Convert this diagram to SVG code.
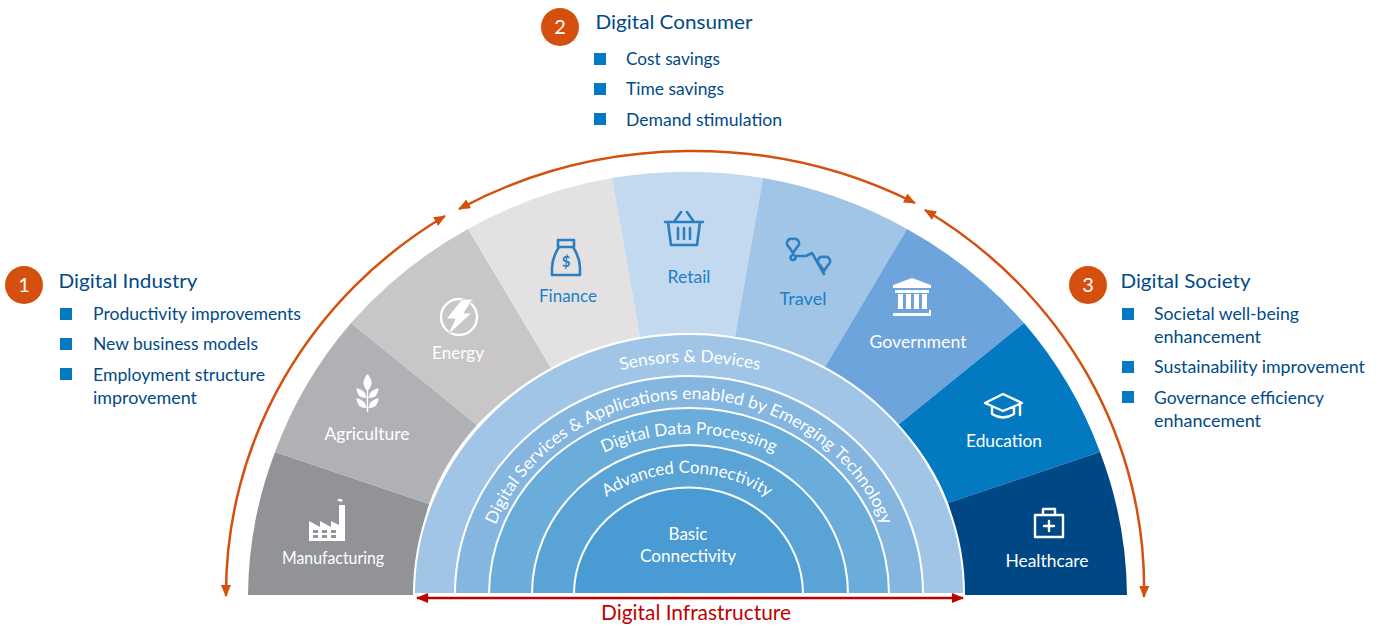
<svg xmlns="http://www.w3.org/2000/svg" width="1383" height="626" viewBox="0 0 1383 626">
<style>
text{font-family:"Lato","Open Sans",sans-serif}
.h{font-size:20px;fill:#004a87}
.b{font-size:17px;fill:#004a87}
.s{fill:#0279c0}
.c{fill:#d5500f}
.n{font-size:20px;fill:#fff;text-anchor:middle}
.lw{font-size:17px;fill:#fff;text-anchor:middle}
.lb{font-size:17px;fill:#1b80c5;text-anchor:middle}
.rt{font-size:17px;fill:#fff;text-anchor:middle}
.ring{stroke:#fff;stroke-width:2}
.ic{fill:none;stroke:#fff;stroke-width:2.4;stroke-linejoin:round;stroke-linecap:round}
.ib{fill:none;stroke:#2b7fc0;stroke-width:2.6;stroke-linejoin:round;stroke-linecap:round}
.or{fill:none;stroke:#d5500f;stroke-width:2.5;marker-start:url(#ao);marker-end:url(#ao)}
</style>
<defs>
<marker id="ao" viewBox="0 0 12 10" refX="11" refY="5" markerWidth="12" markerHeight="10" markerUnits="userSpaceOnUse" orient="auto-start-reverse"><path d="M0 0L12 5L0 10Z" fill="#d5500f"/></marker>
<marker id="ar" viewBox="0 0 12 10" refX="11" refY="5" markerWidth="12" markerHeight="11" markerUnits="userSpaceOnUse" orient="auto-start-reverse"><path d="M0 0L12 5L0 10Z" fill="#c00000"/></marker>
<path id="p1" d="M428 595A262 233 0 0 1 952 595"/>
<path id="p2" d="M482 595A207 196 0 0 1 896 595"/>
<path id="p3" d="M507 595A182 161 0 0 1 871 595"/>
<path id="p4" d="M552 595A135 122 0 0 1 822 595"/>
</defs>
<g id="seg-manufacturing"><path d="M248 595A439.5 424 0 0 1 275 452L429 504Q416 545 413 595Z" fill="#929396"/><text class="lw" x="333" y="564" textLength="102" lengthAdjust="spacingAndGlyphs">Manufacturing</text>
<path d="M309 541V521L320 527V521L331 527V521L339 525V505H345V541Z" fill="#fff"/><path d="M313 530h5v3h-5zM322 530h5v3h-5zM331 530h5v3h-5zM313 535h5v3h-5zM322 535h5v3h-5zM331 535h5v3h-5z" fill="#929396"/><path d="M337 500q4-3 6 1q-3 2-6-1Z" fill="#fff"/></g>
<g id="seg-agriculture"><path d="M275 452A439.5 424 0 0 1 351 323L477 425Q445 460 429 504Z" fill="#b0b1b5"/><text class="lw" x="367" y="440" textLength="85" lengthAdjust="spacingAndGlyphs">Agriculture</text>
<path d="M367.500 374q8 9 0 17q-8-8 0-17ZM366.500 398q-1-8-10-10q0 10 10 10ZM368.500 398q1-8 10-10q0 10-10 10ZM366.500 408q-1-8-10-10q0 10 10 10ZM368.500 408q1-8 10-10q0 10-10 10ZM366.800 390h1.400v22h-1.400Z" fill="#fff"/></g>
<g id="seg-energy"><path d="M351 323A439.500 424 0 0 1 468 229L551 368Q510 390 477 425Z" fill="#c8c6c7"/><text class="lw" x="458" y="359" textLength="52" lengthAdjust="spacingAndGlyphs">Energy</text>
<circle cx="459" cy="317" r="18" class="ic" stroke-width="3"/><path d="M462 299H473L464 313H472L447 336L455 319H446Z" fill="#fff" stroke="#c8c6c7" stroke-width="1"/></g>
<g id="seg-finance"><path d="M468 229A439.500 424 0 0 1 612 178L640 337Q592 345 551 368Z" fill="#e3e1e2"/><text class="lb" x="568" y="302" textLength="58" lengthAdjust="spacingAndGlyphs">Finance</text>
<path d="M558 240H574V247H558ZM559 247Q552 258 552 268V275H580V268Q580 258 573 247" class="ib"/><text x="566" y="267" font-size="15" font-weight="700" fill="#2b7fc0" text-anchor="middle">$</text></g>
<g id="seg-retail"><path d="M612 178A439.500 424 0 0 1 763 178L735 337Q688 329 640 337Z" fill="#c3d9ef"/><text class="lb" x="689" y="283" textLength="43" lengthAdjust="spacingAndGlyphs">Retail</text>
<path d="M665 222H703M668 222L671 245H697L700 222M674 222L681 212M694 222L687 212M678 228V239M684 228V239M690 228V239" class="ib" stroke-width="3.200"/></g>
<g id="seg-travel"><path d="M763 178A439.500 424 0 0 1 907 229L825 367Q784 345 735 337Z" fill="#a0c5e7"/><text class="lb" x="803" y="305" textLength="47" lengthAdjust="spacingAndGlyphs">Travel</text>
<path d="M793 239a4.500 4.500 0 0 1 4 8l-4 6l-4-6a4.500 4.500 0 0 1 4-8ZM824 257a4.500 4.500 0 0 1 4 8l-4 6l-4-6a4.500 4.500 0 0 1 4-8ZM793 255a2.500 2.500 0 1 0 .1 0ZM797 256H806L812 253L824 274" class="ib"/></g>
<g id="seg-government"><path d="M907 229A439.500 424 0 0 1 1024 323L898 425Q865 390 825 367Z" fill="#6ca4db"/><text class="lw" x="918" y="348" textLength="97" lengthAdjust="spacingAndGlyphs">Government</text>
<path d="M912 278L931 285V288H893V285ZM895 290H929V293H895ZM898 294H903V309H898ZM906 294H911V309H906ZM914 294H919V309H914ZM922 294H927V309H922ZM895 310H929V313H893V316H931V310Z" fill="#fff"/></g>
<g id="seg-education"><path d="M1024 323A439.500 424 0 0 1 1100 452L948 503Q932 460 898 425Z" fill="#0279c0"/><text class="lw" x="1004" y="447" textLength="76" lengthAdjust="spacingAndGlyphs">Education</text>
<path d="M1003 394L1022 403L1003 411L985 403ZM992 407V414Q1003 421 1014 414V407M1020 404V415" class="ic"/></g>
<g id="seg-healthcare"><path d="M1100 452A439.500 424 0 0 1 1127 595H964Q961 545 948 503Z" fill="#004785"/><text class="lw" x="1047" y="567" textLength="83" lengthAdjust="spacingAndGlyphs">Healthcare</text>
<path d="M1035 515H1063V537H1035ZM1043 515V509H1055V515M1049 521V531M1044 526H1054" class="ic" stroke-width="2.200"/></g>
<g id="infrastructure">
<path class="ring" d="M414 594A275 260 0 0 1 964 594Z" fill="#a0c5e7"/>
<path class="ring" d="M455 594A234 218 0 0 1 923 594Z" fill="#84b6df"/>
<path class="ring" d="M489 594A200 186 0 0 1 889 594Z" fill="#6aacda"/>
<path class="ring" d="M532 594A158 149 0 0 1 848 594Z" fill="#59a3d6"/>
<path class="ring" d="M574 594A114 106 0 0 1 803 594Z" fill="#4a9bd3"/>
<text class="rt"><textPath href="#p1" startOffset="50%" textLength="140" lengthAdjust="spacingAndGlyphs">Sensors &amp; Devices</textPath></text>
<text class="rt"><textPath href="#p2" startOffset="50%" textLength="490" lengthAdjust="spacingAndGlyphs">Digital Services &amp; Applications enabled by Emerging Technology</textPath></text>
<text class="rt"><textPath href="#p3" startOffset="50%" textLength="176" lengthAdjust="spacingAndGlyphs">Digital Data Processing</textPath></text>
<text class="rt"><textPath href="#p4" startOffset="50%" textLength="171" lengthAdjust="spacingAndGlyphs">Advanced Connectivity</textPath></text>
<text class="rt" x="688" y="540" textLength="39" lengthAdjust="spacingAndGlyphs">Basic</text>
<text class="rt" x="688" y="562" textLength="96" lengthAdjust="spacingAndGlyphs">Connectivity</text>
</g>
<g id="connectors">
<path class="or" d="M226 596A461 444 0 0 1 445 216"/>
<path class="or" d="M459 209A461 420 0 0 1 915 203"/>
<path class="or" d="M925 210A461 444 0 0 1 1144 597"/>
<path d="M417 598H963" stroke="#c00000" stroke-width="2.500" fill="none" marker-start="url(#ar)" marker-end="url(#ar)"/>
</g>
<text id="label-infrastructure" x="696" y="620" font-size="20.500" fill="#c00000" text-anchor="middle" textLength="190" lengthAdjust="spacingAndGlyphs">Digital Infrastructure</text>
<g id="industry">
<circle class="c" cx="24" cy="285" r="19"/><text class="n" x="24" y="292">1</text>
<text class="h" x="58.500" y="288" textLength="139" lengthAdjust="spacingAndGlyphs">Digital Industry</text>
<rect class="s" x="60" y="308" width="12" height="12"/><rect class="s" x="60" y="338" width="12" height="12"/><rect class="s" x="60" y="368" width="12" height="12"/>
<text class="b" x="93" y="320" textLength="208" lengthAdjust="spacingAndGlyphs">Productivity improvements</text>
<text class="b" x="93" y="350" textLength="165" lengthAdjust="spacingAndGlyphs">New business models</text>
<text class="b" x="93" y="381" textLength="172" lengthAdjust="spacingAndGlyphs">Employment structure</text>
<text class="b" x="93" y="404" textLength="104" lengthAdjust="spacingAndGlyphs">improvement</text>
</g>
<g id="consumer">
<circle class="c" cx="560" cy="27" r="19"/><text class="n" x="560" y="34">2</text>
<text class="h" x="595.500" y="29" textLength="157" lengthAdjust="spacingAndGlyphs">Digital Consumer</text>
<rect class="s" x="594" y="53" width="12" height="12"/><rect class="s" x="594" y="83" width="12" height="12"/><rect class="s" x="594" y="113" width="12" height="12"/>
<text class="b" x="626" y="65" textLength="94" lengthAdjust="spacingAndGlyphs">Cost savings</text>
<text class="b" x="626" y="95" textLength="98" lengthAdjust="spacingAndGlyphs">Time savings</text>
<text class="b" x="626" y="126" textLength="156" lengthAdjust="spacingAndGlyphs">Demand stimulation</text>
</g>
<g id="society">
<circle class="c" cx="1088" cy="285" r="19"/><text class="n" x="1088" y="292">3</text>
<text class="h" x="1120.500" y="288" textLength="130" lengthAdjust="spacingAndGlyphs">Digital Society</text>
<rect class="s" x="1122" y="308" width="12" height="12"/><rect class="s" x="1122" y="361" width="12" height="12"/><rect class="s" x="1122" y="391" width="12" height="12"/>
<text class="b" x="1154" y="320" textLength="145" lengthAdjust="spacingAndGlyphs">Societal well-being</text>
<text class="b" x="1154" y="343" textLength="107" lengthAdjust="spacingAndGlyphs">enhancement</text>
<text class="b" x="1154" y="373" textLength="211" lengthAdjust="spacingAndGlyphs">Sustainability improvement</text>
<text class="b" x="1154" y="404" textLength="170" lengthAdjust="spacingAndGlyphs">Governance efficiency</text>
<text class="b" x="1154" y="427" textLength="107" lengthAdjust="spacingAndGlyphs">enhancement</text>
</g>
</svg>
